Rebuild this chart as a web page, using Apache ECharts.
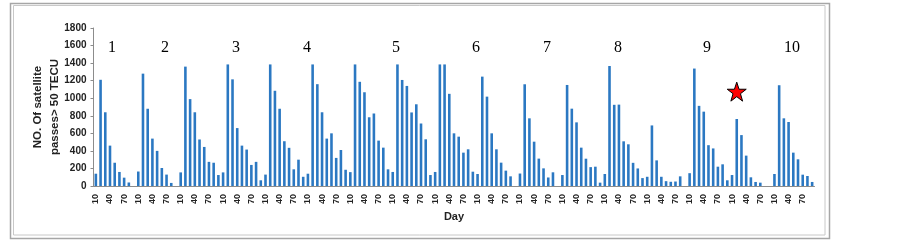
<!DOCTYPE html>
<html>
<head>
    <meta charset="utf-8">
    <title>satellite passes</title>
    <style>
        html, body { margin: 0; padding: 0; background: #fff; }
    </style>
</head>
<body>
    <div id="main" style="width: 902px;height:242px;"></div>

    <script src="https://cdn.jsdelivr.net/npm/echarts@6/dist/echarts.min.js"></script>
    <script>
        // days inside each block (labels show every 3rd: 10, 40, 70)
        var days = ['10', '20', '30', '40', '50', '60', '70', '80', '90'];

        // one array per block
        var b1 = [140, 1210, 840, 460, 265, 160, 95, 40, 0];
        var b2 = [165, 1280, 880, 540, 400, 205, 130, 35, 0];
        var b3 = [155, 1360, 990, 840, 530, 445, 275, 265, 125];
        var b4 = [155, 1385, 1215, 660, 460, 415, 240, 275, 65];
        var b5 = [130, 1385, 1085, 880, 510, 435, 190, 300, 105];
        var b6 = [140, 1385, 1160, 840, 540, 600, 320, 410, 185];
        var b7 = [158, 1385, 1187, 1068, 783, 826, 517, 437, 190];
        var b8 = [160, 1385, 1208, 1140, 838, 931, 712, 532, 125];
        var b9 = [160, 1385, 1385, 1050, 600, 562, 380, 418, 163];
        var b10 = [137, 1246, 1018, 600, 418, 266, 175, 110, 0];
        var b11 = [142, 1159, 771, 505, 312, 201, 97, 156, 0];
        var b12 = [125, 1151, 881, 725, 437, 311, 215, 220, 38];
        var b13 = [137, 1367, 925, 927, 509, 475, 264, 200, 90];
        var b14 = [105, 690, 292, 105, 55, 48, 51, 110, 0];
        var b15 = [146, 1338, 913, 847, 465, 428, 220, 247, 65];
        var b16 = [125, 763, 580, 346, 99, 46, 38, 0, 0];
        var b17 = [137, 1148, 771, 729, 380, 304, 129, 114, 46];

        var blocks = [b1, b2, b3, b4, b5, b6, b7, b8, b9, b10, b11, b12, b13, b14, b15, b16, b17];

        // numbers written above the bars
        var tagTexts = ['1', '2', '3', '4', '5', '6', '7', '8', '9', '10'];
        var tagX = [112, 165, 236, 307, 396, 476, 547, 618, 707, 792];

        // star marker (category index, value)
        var starAt = [136, 1075];

        var cats = [];
        var values = [];
        blocks.forEach(function (b, i) {
            b.forEach(function (v, j) {
                cats.push(i + '-' + days[j]);
                values.push(v);
            });
        });

        var graphics = [
            { type: 'rect', shape: { x: 10.5, y: 3.5, width: 819, height: 235 }, style: { fill: 'none', stroke: '#a6a6a6', lineWidth: 1.5 }, z: 0 },
            { type: 'rect', shape: { x: 13.5, y: 5.5, width: 811.5, height: 229.5 }, style: { fill: 'none', stroke: '#c8c8c8', lineWidth: 1 }, z: 0 }
        ];
        tagTexts.forEach(function (t, i) {
            graphics.push({
                type: 'text', x: tagX[i], y: 48,
                style: { text: t, fill: '#000', font: '16px "Liberation Serif"', textAlign: 'center', textVerticalAlign: 'middle' }
            });
        });

        var myChart = echarts.init(document.getElementById('main'));

        var option = {
            animation: false,
            grid: { left: 93.5, right: 87.5, top: 28, bottom: 56 },
            xAxis: {
                type: 'category',
                data: cats,
                name: 'Day',
                nameLocation: 'middle',
                nameGap: 22,
                nameTextStyle: { fontFamily: 'Liberation Sans', fontWeight: 'bold', fontSize: 11, color: '#222' },
                axisLine: { lineStyle: { color: '#8c8c8c' } },
                axisTick: { show: false },
                axisLabel: {
                    interval: 2,
                    rotate: 90,
                    margin: 8,
                    fontFamily: 'Liberation Sans',
                    fontWeight: 'bold',
                    fontSize: 9,
                    color: '#222',
                    formatter: function (v) { return v.split('-')[1]; }
                }
            },
            yAxis: {
                type: 'value',
                min: 0,
                max: 1800,
                interval: 200,
                name: 'NO. Of satellite\npasses> 50 TECU',
                nameLocation: 'middle',
                nameGap: 30,
                nameMoveOverlap: false,
                nameTextStyle: { fontFamily: 'Liberation Sans', fontWeight: 'bold', fontSize: 11.5, lineHeight: 17, color: '#222' },
                splitLine: { show: false },
                axisLine: { show: true, lineStyle: { color: '#8c8c8c' } },
                axisTick: { show: true, length: 3, lineStyle: { color: '#8c8c8c' } },
                axisLabel: {
                    margin: 7, fontFamily: 'Liberation Sans', fontWeight: 'bold', fontSize: 10, color: '#222',
                    formatter: function (v) { return String(v); }
                }
            },
            series: [{
                type: 'bar',
                data: values,
                barWidth: '55%',
                itemStyle: { color: '#2b78c2' },
                markPoint: {
                    symbol: 'path://M12 0L14.9 8.6H24L16.7 14L19.4 23L12 17.6L4.6 23L7.3 14L0 8.6H9.1Z',
                    symbolSize: 19,
                    label: { show: false },
                    itemStyle: { color: '#ff0000', borderColor: '#000', borderWidth: 1 },
                    data: [{ coord: starAt }]
                }
            }],
            graphic: graphics
        };
        myChart.setOption(option);
    </script>
</body>
</html>
